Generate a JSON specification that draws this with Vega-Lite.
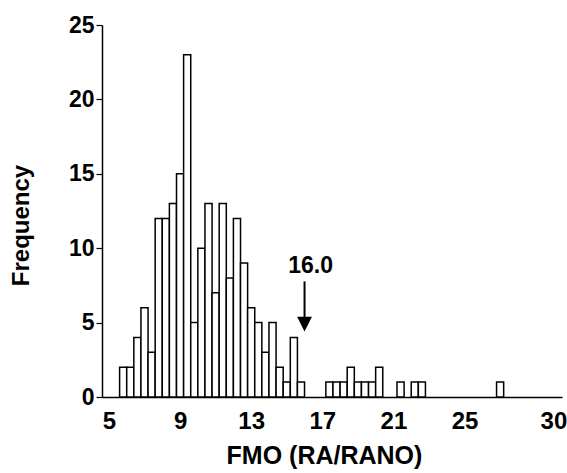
{
  "$schema": "https://vega.github.io/schema/vega-lite/v6.json",
  "width": 460,
  "height": 372,
  "autosize": "none",
  "padding": {"left": 102, "top": 25, "right": 5, "bottom": 76},
  "background": "white",
  "config": {
    "view": {"stroke": null},
    "font": "Liberation Sans",
    "axis": {"labelFont": "Liberation Sans", "titleFont": "Liberation Sans", "labelFontWeight": "bold", "titleFontWeight": "bold", "labelColor": "black", "titleColor": "black", "domainColor": "black", "tickColor": "black", "grid": false}
  },
  "datasets": {
    "bins": [
      {"start": 5.6, "end": 6.0, "count": 2},
      {"start": 6.0, "end": 6.4, "count": 2},
      {"start": 6.4, "end": 6.8, "count": 4},
      {"start": 6.8, "end": 7.2, "count": 6},
      {"start": 7.2, "end": 7.6, "count": 3},
      {"start": 7.6, "end": 8.0, "count": 12},
      {"start": 8.0, "end": 8.4, "count": 12},
      {"start": 8.4, "end": 8.8, "count": 13},
      {"start": 8.8, "end": 9.2, "count": 15},
      {"start": 9.2, "end": 9.6, "count": 23},
      {"start": 9.6, "end": 10.0, "count": 5},
      {"start": 10.0, "end": 10.4, "count": 10},
      {"start": 10.4, "end": 10.8, "count": 13},
      {"start": 10.8, "end": 11.2, "count": 7},
      {"start": 11.2, "end": 11.6, "count": 13},
      {"start": 11.6, "end": 12.0, "count": 8},
      {"start": 12.0, "end": 12.4, "count": 12},
      {"start": 12.4, "end": 12.8, "count": 9},
      {"start": 12.8, "end": 13.2, "count": 6},
      {"start": 13.2, "end": 13.6, "count": 5},
      {"start": 13.6, "end": 14.0, "count": 3},
      {"start": 14.0, "end": 14.4, "count": 5},
      {"start": 14.4, "end": 14.8, "count": 2},
      {"start": 14.8, "end": 15.2, "count": 1},
      {"start": 15.2, "end": 15.6, "count": 4},
      {"start": 15.6, "end": 16.0, "count": 1},
      {"start": 17.2, "end": 17.6, "count": 1},
      {"start": 17.6, "end": 18.0, "count": 1},
      {"start": 18.0, "end": 18.4, "count": 1},
      {"start": 18.4, "end": 18.8, "count": 2},
      {"start": 18.8, "end": 19.2, "count": 1},
      {"start": 19.2, "end": 19.6, "count": 1},
      {"start": 19.6, "end": 20.0, "count": 1},
      {"start": 20.0, "end": 20.4, "count": 2},
      {"start": 21.2, "end": 21.6, "count": 1},
      {"start": 22.0, "end": 22.4, "count": 1},
      {"start": 22.4, "end": 22.8, "count": 1},
      {"start": 26.8, "end": 27.2, "count": 1}
    ],
    "cutoff": [
      {"fmo": 16.0, "label": "16.0", "textY": 8.82, "ruleTop": 7.77, "ruleBottom": 5.2, "headY": 4.9}
    ]
  },
  "layer": [
    {
      "data": {"name": "bins"},
      "mark": {"type": "bar", "fill": "white", "stroke": "black", "strokeWidth": 1.5},
      "encoding": {
        "x": {
          "field": "start", "type": "quantitative",
          "scale": {"domain": [4.61, 30.48], "nice": false, "zero": false},
          "axis": {
            "values": [5, 9, 13, 17, 21, 25, 30],
            "title": "FMO (RA/RANO)",
            "ticks": false,
            "labelFontSize": 24,
            "titleFontSize": 25,
            "labelPadding": 12,
            "titlePadding": 10,
            "titleX": 222,
            "domainWidth": 1.5,
            "labelFlush": false
          }
        },
        "x2": {"field": "end"},
        "y": {
          "field": "count", "type": "quantitative",
          "scale": {"domain": [0, 25], "nice": false},
          "axis": {
            "values": [0, 2.5, 5, 7.5, 10, 12.5, 15, 17.5, 20, 22.5, 25],
            "labelExpr": "datum.value % 5 === 0 ? datum.label : ''",
            "tickSize": {"condition": {"test": "datum.value % 5 === 0", "value": 6}, "value": 3},
            "title": "Frequency",
            "labelFontSize": 23,
            "titleFontSize": 24,
            "labelPadding": 2,
            "titlePadding": 35,
            "titleY": 200,
            "domainWidth": 1.5,
            "tickWidth": 1.2,
            "labelFlush": false
          }
        },
        "y2": {"datum": 0}
      }
    },
    {
      "data": {"name": "cutoff"},
      "mark": {"type": "rule", "stroke": "black", "strokeWidth": 2},
      "encoding": {
        "x": {"field": "fmo", "type": "quantitative"},
        "y": {"field": "ruleTop", "type": "quantitative"},
        "y2": {"field": "ruleBottom"}
      }
    },
    {
      "data": {"name": "cutoff"},
      "mark": {"type": "point", "shape": "M-1,-1L1,-1L0,1Z", "filled": true, "fill": "black", "stroke": null, "size": 220, "opacity": 1},
      "encoding": {
        "x": {"field": "fmo", "type": "quantitative"},
        "y": {"field": "headY", "type": "quantitative"}
      }
    },
    {
      "data": {"name": "cutoff"},
      "mark": {"type": "text", "font": "Liberation Sans", "fontWeight": "bold", "fontSize": 23, "dx": 6, "baseline": "middle", "align": "center", "color": "black"},
      "encoding": {
        "x": {"field": "fmo", "type": "quantitative"},
        "y": {"field": "textY", "type": "quantitative"},
        "text": {"field": "label"}
      }
    }
  ]
}
